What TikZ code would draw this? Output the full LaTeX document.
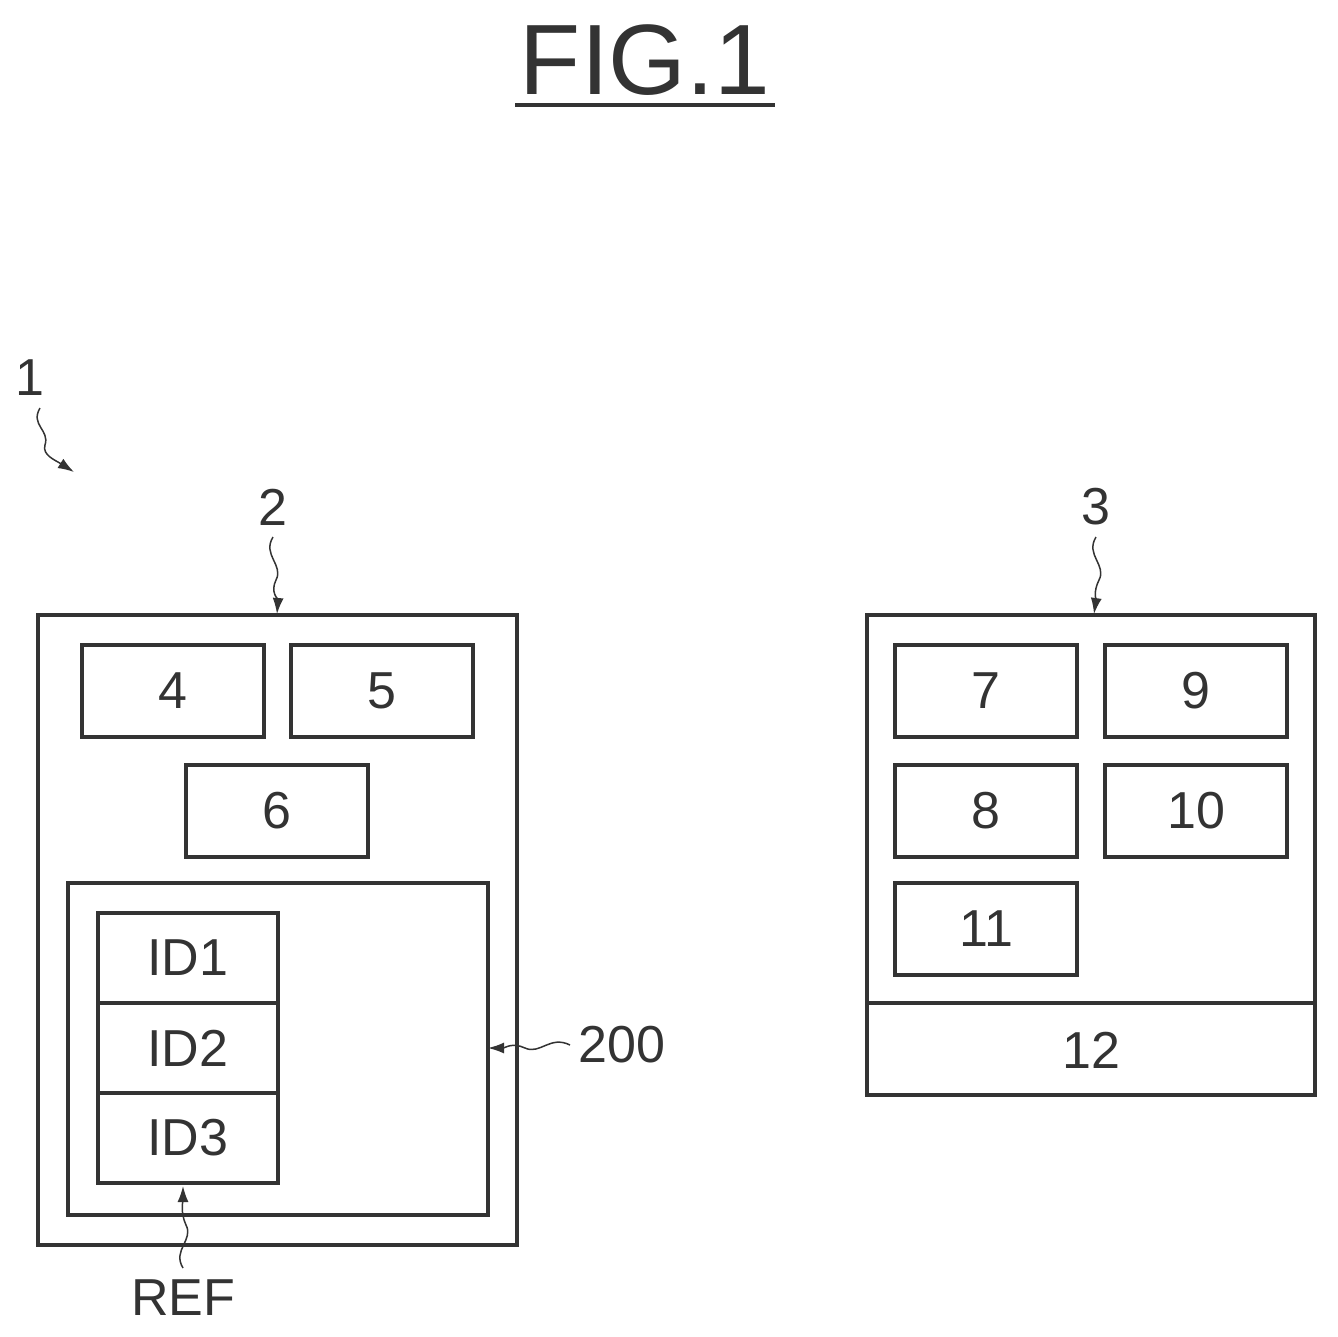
\documentclass[tikz,border=0pt]{standalone}
\usepackage{fontspec}
\setmainfont{Liberation Sans}
\usetikzlibrary{arrows.meta}
\definecolor{ink}{gray}{0.2}
\tikzset{
  blk/.style={draw=ink,line width=3.5pt,minimum width=182pt,minimum height=92pt,font=\fontsize{52}{60}\selectfont,text=ink,inner sep=0pt},
  frame/.style={draw=ink,line width=3.5pt},
  lbl/.style={font=\fontsize{52}{60}\selectfont,text=ink,inner sep=0pt},
  lead/.style={draw=ink,line width=1.5pt,-{Latex[length=16pt,width=11pt]}}
}
\begin{document}
\begin{tikzpicture}[x=1pt,y=-1pt]
  \useasboundingbox (0,0) rectangle (1338,1336);
  % title
  \node[lbl,font=\fontsize{100}{110}\selectfont] (title) at (645,60) {FIG.1};
  \draw[ink,line width=4pt] (515,105) -- (775,105);

  % unit 2
  \draw[frame] (38,615) rectangle (517,1245);
  \node[blk] (b4) at (173,691) {4};
  \node[blk] (b5) at (382,691) {5};
  \node[blk] (b6) at (277,811) {6};
  \draw[frame] (68,883) rectangle (488,1215);
  \node[blk,minimum width=180pt,minimum height=90pt] (id1) at (188,958) {ID1};
  \node[blk,minimum width=180pt,minimum height=90pt] (id2) at (188,1048) {ID2};
  \node[blk,minimum width=180pt,minimum height=90pt] (id3) at (188,1138) {ID3};

  % unit 3
  \draw[frame] (867,615) rectangle (1315,1095);
  \draw[frame] (867,1003) -- (1315,1003);
  \node[blk] (b7) at (986,691) {7};
  \node[blk] (b9) at (1196,691) {9};
  \node[blk] (b8) at (986,811) {8};
  \node[blk] (b10) at (1196,811) {10};
  \node[blk] (b11) at (986,929) {11};
  \node[lbl] (b12) at (1091,1050) {12};

  % labels and leaders
  \node[lbl] (l1) at (30,378) {1};
  \node[lbl] (l2) at (273,507) {2};
  \node[lbl] (l3) at (1096,507) {3};
  \node[lbl] (l200) at (622,1045) {200};
  \node[lbl] (lref) at (183,1298) {REF};
  \coordinate (t1) at (74,472);
  \coordinate (t2) at (277,614);
  \coordinate (t3) at (1094,614);
  \coordinate (t200) at (488,1048);
  \coordinate (tref) at (183,1186);
  \draw[lead] (40,408) .. controls (30,425) and (50,430) .. (45,445) .. controls (42,455) and (55,460) .. (t1);
  \draw[lead] (273,537) .. controls (262,555) and (284,565) .. (276,580) .. controls (270,592) and (278,600) .. (t2);
  \draw[lead] (1096,537) .. controls (1085,555) and (1107,565) .. (1099,580) .. controls (1093,592) and (1096,600) .. (t3);
  \draw[lead] (570,1045) .. controls (550,1035) and (540,1055) .. (525,1048) .. controls (512,1042) and (505,1048) .. (t200);
  \draw[lead] (183,1268) .. controls (172,1250) and (194,1240) .. (186,1225) .. controls (180,1212) and (183,1200) .. (tref);
\end{tikzpicture}
\end{document}
